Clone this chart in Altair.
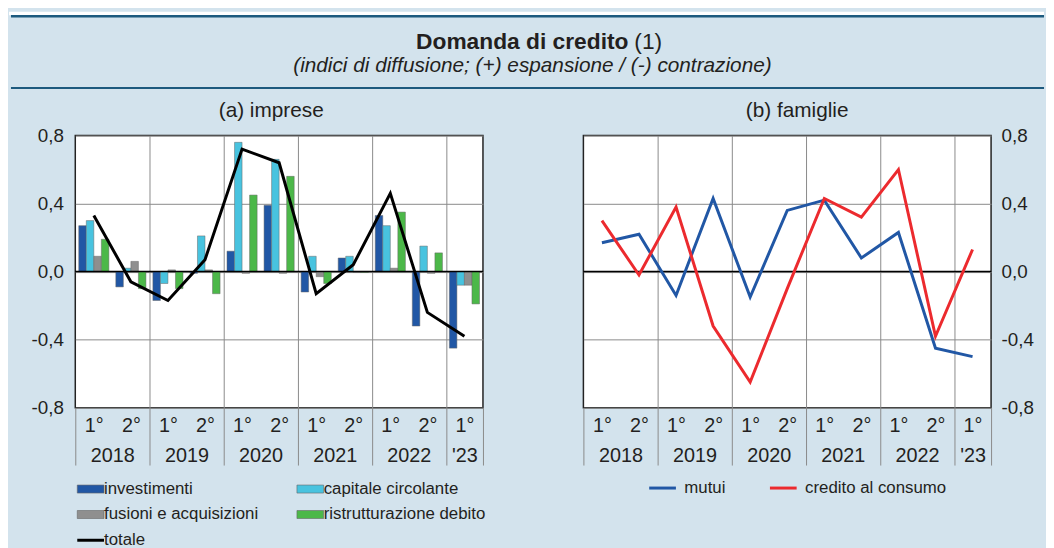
import json
import altair as alt
import pandas as pd

# ---------------- data ----------------
periods = ["2018-1", "2018-2", "2019-1", "2019-2", "2020-1", "2020-2",
           "2021-1", "2021-2", "2022-1", "2022-2", "2023-1"]
halves = ["1°", "2°"]
years = ["2018", "2019", "2020", "2021", "2022", "'23"]

series_names = ["investimenti", "capitale circolante",
                "fusioni e acquisizioni", "ristrutturazione debito"]
investimenti = [0.27, -0.09, -0.17, -0.01, 0.12, 0.39, -0.12, 0.08, 0.33, -0.32, -0.45]
capitale = [0.30, 0.02, -0.07, 0.21, 0.76, 0.66, 0.09, 0.09, 0.27, 0.15, -0.08]
fusioni = [0.09, 0.06, 0.01, 0.01, -0.01, -0.01, -0.03, -0.005, 0.02, -0.01, -0.08]
ristrutturazione = [0.19, -0.10, -0.10, -0.13, 0.45, 0.56, -0.07, -0.005, 0.35, 0.11, -0.19]
totale = [0.33, -0.06, -0.17, 0.07, 0.72, 0.64, -0.13, 0.04, 0.46, -0.24, -0.38]

fam_names = ["mutui", "credito al consumo"]
mutui = [0.17, 0.22, -0.14, 0.43, -0.15, 0.36, 0.42, 0.08, 0.23, -0.45, -0.50]
credito = [0.30, -0.02, 0.38, -0.32, -0.65, -0.10, 0.43, 0.32, 0.60, -0.38, 0.13]

title_main = "Domanda di credito"
title_note = "(1)"
subtitle = "(indici di diffusione; (+) espansione / (-) contrazione)"
panel_titles = ["(a) imprese", "(b) famiglie"]

# ---------------- styles ----------------
FONT = "Liberation Sans"
TXT = "#231f20"
BG = "#d3e3ed"
TEAL = "#1d5a7e"
bar_colors = ["#2157a5", "#48c3df", "#8f8f8f", "#4cb849"]
fam_colors = ["#2157a5", "#ec2a2e"]

W, H = 412, 275
bars_df = pd.DataFrame(
    [{"period": p, "serie": s, "value": v}
     for s, vals in zip(series_names, [investimenti, capitale, fusioni, ristrutturazione])
     for p, v in zip(periods, vals)]
)
tot_df = pd.DataFrame({"period": periods, "value": totale, "serie": "totale"})
fam_df = pd.DataFrame(
    [{"period": p, "serie": s, "value": v}
     for s, vals in zip(fam_names, [mutui, credito])
     for p, v in zip(periods, vals)]
)
zero_df = pd.DataFrame({"x0": [0], "x1": [len(periods)], "y": [0]})
dummy = pd.DataFrame({"a": [0]})

yscale = alt.Scale(domain=[-0.8, 0.8], nice=False, zero=False)
ylab = "(datum.value < 0 ? '-' : '') + replace(format(abs(datum.value), '.1f'), '.', ',')"


def yaxis(orient, pad):
    return alt.Axis(orient=orient, values=[-0.8, -0.4, 0, 0.4, 0.8], title=None,
                    labelExpr=ylab, ticks=False, domain=False, labelPadding=pad,
                    labelFontSize=19, labelColor=TXT, grid=True,
                    gridColor="#8a8a8a", gridWidth=1)


n = len(periods)
H_js = json.dumps(halves, ensure_ascii=False)
Y_js = json.dumps(years, ensure_ascii=False)
xlab = (
    f"datum.value % 1 != 0 ? (datum.value == {n - 0.5} ? [{H_js}[0], {Y_js}[{len(years) - 1}]]"
    f" : {H_js}[floor(datum.value) % 2])"
    f" : ((datum.value % 2 == 1 && datum.value < {n - 1}) ? ['', {Y_js}[(datum.value - 1) / 2]] : '')"
)
xaxis = alt.Axis(
    values=[i / 2 for i in range(2 * n + 1)], title=None, domain=False,
    labelExpr=xlab, labelFontSize=20, labelColor=TXT, labelOverlap=False,
    labelFlush=False, labelBound=False, labelLineHeight=30, labelPadding=-50,
    tickSize=58, tickColor="#8a8a8a", tickWidth=1,
    tickOpacity={"condition": {"test": f"datum.value % 2 == 0 || datum.value == {n}", "value": 1}, "value": 0},
    grid=True, gridColor="#8a8a8a", gridWidth=1,
    gridOpacity={"condition": {"test": f"datum.value % 2 == 0 && datum.value > 0 && datum.value < {n}", "value": 1}, "value": 0},
)
xquant = alt.Scale(domain=[0, n], nice=False, zero=False)
xband = alt.Scale(type="band", domain=periods, paddingInner=0, paddingOuter=0)


def zero_layer(orient, pad):
    return alt.Chart(zero_df).mark_rule(color="#000", strokeWidth=1.5).encode(
        x=alt.X("x0:Q", scale=xquant, axis=xaxis),
        x2="x1:Q",
        y=alt.Y("y:Q", scale=yscale, axis=yaxis(orient, pad)),
    )


rect_path = "M-1.5,-0.45H1.5V0.45H-1.5Z"
line_path = "M-1.5,0H1.5"

bars = alt.Chart(bars_df).mark_bar(stroke="#666", strokeWidth=0.5).encode(
    x=alt.X("period:N", scale=xband, axis=None, sort=periods),
    xOffset=alt.XOffset("serie:N", scale=alt.Scale(domain=series_names, paddingInner=0, paddingOuter=0.46)),
    y=alt.Y("value:Q", scale=yscale, axis=yaxis("left", 12), stack=None),
    fill=alt.Fill(
        "serie:N",
        scale=alt.Scale(domain=series_names + ["totale"], range=bar_colors + ["#000000"]),
        legend=alt.Legend(
            orient="none", legendX=7, legendY=348.5, columns=2, direction="horizontal",
            title=None, padding=0, labelFontSize=17, labelColor=TXT, labelLimit=300,
            labelOffset=5, rowPadding=8, columnPadding=37, symbolSize=324,
            symbolType=alt.ExprRef(f"datum.value == 'totale' ? '{line_path}' : '{rect_path}'"),
            symbolStrokeWidth=alt.ExprRef("datum.value == 'totale' ? 3 : 0.6"),
            symbolStrokeColor=alt.ExprRef("datum.value == 'totale' ? '#000' : '#666'"),
            symbolOpacity=1,
        ),
    ),
)
tot_line = alt.Chart(tot_df).mark_line(color="#000", strokeWidth=3).encode(
    x=alt.X("period:N", scale=xband, axis=None, sort=periods),
    y=alt.Y("value:Q", scale=yscale, axis=yaxis("left", 12)),
)
left = alt.layer(bars, zero_layer("left", 12), tot_line).resolve_scale(x="independent").properties(width=W, height=H)

fam_lines = alt.Chart(fam_df).mark_line(strokeWidth=3).encode(
    x=alt.X("period:N", scale=xband, axis=None, sort=periods),
    y=alt.Y("value:Q", scale=yscale, axis=yaxis("right", 10)),
    stroke=alt.Stroke(
        "serie:N", scale=alt.Scale(domain=fam_names, range=fam_colors), sort=fam_names,
        legend=alt.Legend(
            orient="none", legendX=69.5, legendY=345.5, columns=2, direction="horizontal",
            title=None, padding=0, labelFontSize=17, labelColor=TXT, labelLimit=300,
            labelOffset=11.5, columnPadding=38, symbolSize=324, symbolType=line_path,
            symbolStrokeWidth=3,
        ),
    ),
)
right = alt.layer(zero_layer("right", 10), fam_lines).resolve_scale(x="independent").properties(width=W, height=H)

panels = alt.hconcat(left, right, spacing=101.5, bounds="flush").resolve_scale(
    x="independent", y="independent", stroke="independent", fill="independent")

clear_view = alt.ViewBackground(fill="transparent", stroke="transparent")
spacer = alt.Chart(dummy).mark_point(opacity=0).properties(width=66.5, height=H, view=clear_view)
row = alt.hconcat(spacer, panels, spacing=0, bounds="flush")

base = alt.Chart(dummy)
header = alt.layer(
    base.mark_rect(color="white").encode(x=alt.value(0), x2=alt.value(1046), y=alt.value(0), y2=alt.value(3.5)),
    base.mark_rule(color=TEAL, strokeWidth=2.5).encode(x=alt.value(2), x2=alt.value(1046), y=alt.value(4.5)),
    base.mark_rule(color=TEAL, strokeWidth=2).encode(x=alt.value(2), x2=alt.value(1046), y=alt.value(77)),
    base.mark_text(fontSize=23, fontWeight="bold", align="right", baseline="middle", color=TXT).encode(
        x=alt.value(626), y=alt.value(31), text=alt.value(title_main)),
    base.mark_text(fontSize=23, align="left", baseline="middle", color=TXT).encode(
        x=alt.value(632), y=alt.value(31), text=alt.value(title_note)),
    base.mark_text(fontSize=21, fontStyle="italic", align="center", baseline="middle", color=TXT).encode(
        x=alt.value(529), y=alt.value(54.5), text=alt.value(subtitle)),
    base.mark_text(fontSize=21, align="center", baseline="middle", color=TXT).encode(
        x=alt.value(265), y=alt.value(100), text=alt.value(panel_titles[0])),
    base.mark_text(fontSize=21, align="center", baseline="middle", color=TXT).encode(
        x=alt.value(796.5), y=alt.value(100), text=alt.value(panel_titles[1])),
).properties(width=1046, height=125, view=clear_view)

chart = alt.vconcat(header, row, spacing=0, bounds="flush").properties(
    background=BG, padding={"left": 0, "top": 0, "right": 0, "bottom": 0}
).configure(font=FONT).configure_view(stroke="#222", strokeWidth=1.5, fill="white")

chart.save("out.html", embed_options={"renderer": "svg", "actions": False})
